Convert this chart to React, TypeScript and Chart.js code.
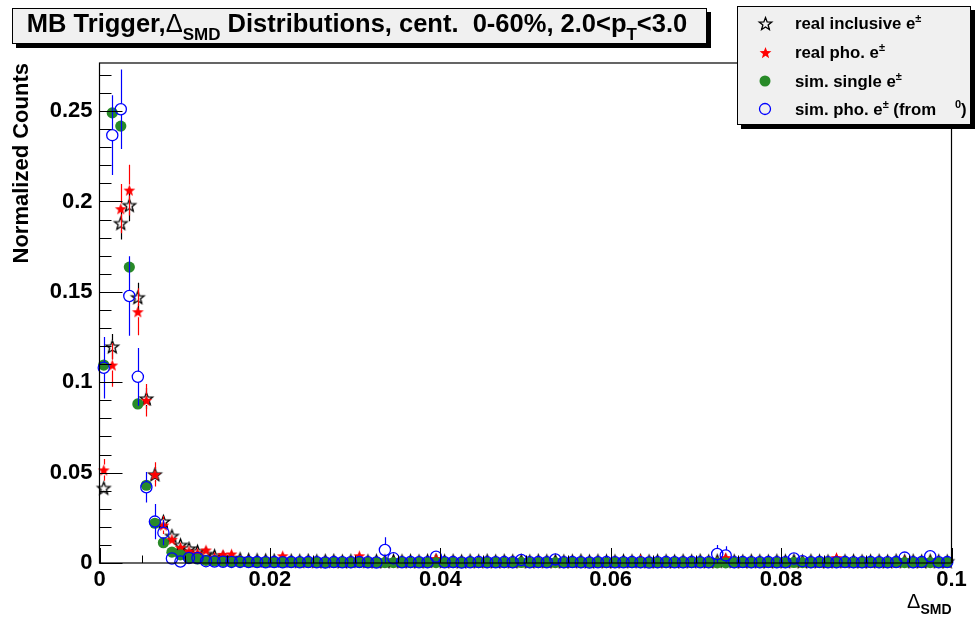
import React, { useEffect, useRef } from 'react';
import { Chart, registerables } from 'chart.js';

Chart.register(...registerables);

// ---- Histogram binning (100 bins of width 0.001 from 0 to 0.1) ----
const BIN_LOW = 0;
const BIN_WIDTH = 0.001;
const N_BINS = 100;

// ---- Axis ticks ----
const X_TICKS = [0, 0.02, 0.04, 0.06, 0.08, 0.1];
const X_TICK_LABELS = ['0', '0.02', '0.04', '0.06', '0.08', '0.1'];
const Y_TICKS = [0, 0.05, 0.1, 0.15, 0.2, 0.25];
const Y_TICK_LABELS = ['0', '0.05', '0.1', '0.15', '0.2', '0.25'];
const X_MINOR_STEP = 0.005;
const Y_MINOR_STEP = 0.01;
const X_MAX = 0.1;
const Y_MAX = 0.2766;

// ---- Series values ----
const realInclusive = [
  0.0415, 0.1197, 0.188, 0.198, 0.147, 0.091, 0.049, 0.023, 0.015, 0.010,
  0.008, 0.0065, 0.005, 0.004, 0.003, 0.0028, 0.0022, 0.0018, 0.0016, 0.0015,
  0.0014, 0.0016, 0.0013, 0.0012, 0.0014, 0.0011, 0.0012, 0.0013, 0.0010, 0.0012,
  0.0014, 0.0011, 0.0012, 0.0010, 0.0013, 0.0011, 0.0012, 0.0010, 0.0013, 0.0014,
  0.0011, 0.0012, 0.0010, 0.0012, 0.0011, 0.0013, 0.0010, 0.0012, 0.0011, 0.0012,
  0.0010, 0.0013, 0.0011, 0.0012, 0.0010, 0.0011, 0.0013, 0.0010, 0.0012, 0.0011,
  0.0010, 0.0012, 0.0011, 0.0013, 0.0010, 0.0012, 0.0011, 0.0010, 0.0012, 0.0011,
  0.0013, 0.0010, 0.0012, 0.0014, 0.0011, 0.0010, 0.0012, 0.0011, 0.0010, 0.0012,
  0.0011, 0.0013, 0.0010, 0.0012, 0.0011, 0.0010, 0.0013, 0.0011, 0.0012, 0.0010,
  0.0011, 0.0012, 0.0010, 0.0013, 0.0011, 0.0012, 0.0010, 0.0012, 0.0011, 0.0010,
];
const realInclusiveErr = [
  0.003, 0.007, 0.009, 0.009, 0.008, 0.006, 0.004, 0.003, 0.002, 0.0018,
  0.0016, 0.0015, 0.0014, 0.0013, 0.0012, 0.0012, 0.0011, 0.0010, 0.0010, 0.0010,
  0.0010, 0.0010, 0.0009, 0.0009, 0.0010, 0.0009, 0.0009, 0.0010, 0.0009, 0.0009,
  0.0010, 0.0009, 0.0009, 0.0009, 0.0010, 0.0009, 0.0009, 0.0009, 0.0010, 0.0010,
  0.0009, 0.0009, 0.0009, 0.0009, 0.0009, 0.0010, 0.0009, 0.0009, 0.0009, 0.0009,
  0.0009, 0.0010, 0.0009, 0.0009, 0.0009, 0.0009, 0.0010, 0.0009, 0.0009, 0.0009,
  0.0009, 0.0009, 0.0009, 0.0010, 0.0009, 0.0009, 0.0009, 0.0009, 0.0009, 0.0009,
  0.0010, 0.0009, 0.0009, 0.0010, 0.0009, 0.0009, 0.0009, 0.0009, 0.0009, 0.0009,
  0.0009, 0.0010, 0.0009, 0.0009, 0.0009, 0.0009, 0.0010, 0.0009, 0.0009, 0.0009,
  0.0009, 0.0009, 0.0009, 0.0010, 0.0009, 0.0009, 0.0009, 0.0009, 0.0009, 0.0009,
];

const realPho = [
  0.0515, 0.1095, 0.196, 0.2063, 0.139, 0.090, 0.049, 0.021, 0.0131, 0.0087,
  0.0066, 0.0055, 0.0072, 0.0032, 0.0048, 0.0050, 0.0015, 0.0012, 0.0010, 0.0008,
  0.0009, 0.0040, 0.0008, 0.0007, 0.0009, 0.0006, 0.0008, 0.0007, 0.0006, 0.0008,
  0.0040, 0.0007, 0.0006, 0.0008, 0.0007, 0.0006, 0.0008, 0.0007, 0.0006, 0.0025,
  0.0007, 0.0006, 0.0008, 0.0006, 0.0007, 0.0006, 0.0008, 0.0007, 0.0006, 0.0007,
  0.0008, 0.0006, 0.0007, 0.0006, 0.0008, 0.0007, 0.0006, 0.0007, 0.0008, 0.0006,
  0.0007, 0.0006, 0.0008, 0.0020, 0.0007, 0.0006, 0.0008, 0.0007, 0.0006, 0.0008,
  0.0007, 0.0006, 0.0008, 0.0030, 0.0007, 0.0006, 0.0008, 0.0007, 0.0006, 0.0008,
  0.0007, 0.0006, 0.0008, 0.0007, 0.0006, 0.0008, 0.0030, 0.0006, 0.0007, 0.0008,
  0.0006, 0.0007, 0.0008, 0.0006, 0.0012, 0.0007, 0.0006, 0.0008, 0.0007, 0.0006,
];
const realPhoErr = [
  0.006, 0.012, 0.0136, 0.014, 0.013, 0.009, 0.0067, 0.005, 0.003, 0.0025,
  0.002, 0.002, 0.002, 0.0015, 0.0015, 0.0015, 0.0010, 0.0010, 0.0008, 0.0008,
  0.0008, 0.0018, 0.0008, 0.0008, 0.0008, 0.0007, 0.0008, 0.0008, 0.0007, 0.0008,
  0.0018, 0.0008, 0.0007, 0.0008, 0.0008, 0.0007, 0.0008, 0.0008, 0.0007, 0.0015,
  0.0008, 0.0007, 0.0008, 0.0007, 0.0008, 0.0007, 0.0008, 0.0008, 0.0007, 0.0008,
  0.0008, 0.0007, 0.0008, 0.0007, 0.0008, 0.0008, 0.0007, 0.0008, 0.0008, 0.0007,
  0.0008, 0.0007, 0.0008, 0.0014, 0.0008, 0.0007, 0.0008, 0.0008, 0.0007, 0.0008,
  0.0008, 0.0007, 0.0008, 0.0016, 0.0008, 0.0007, 0.0008, 0.0008, 0.0007, 0.0008,
  0.0008, 0.0007, 0.0008, 0.0008, 0.0007, 0.0008, 0.0016, 0.0007, 0.0008, 0.0008,
  0.0007, 0.0008, 0.0008, 0.0007, 0.0010, 0.0008, 0.0007, 0.0008, 0.0008, 0.0007,
];

const simSingle = [
  0.1095, 0.249, 0.2417, 0.1637, 0.088, 0.043, 0.022, 0.0112, 0.006, 0.0045,
  0.0026, 0.0022, 0.0015, 0.0011, 0.0009, 0.0007, 0.0006, 0.0005, 0.0005, 0.0004,
  0.0004, 0.0003, 0.0004, 0.0003, 0.0003, 0.0004, 0.0002, 0.0003, 0.0003, 0.0002,
  0.0003, 0.0002, 0.0003, 0.0002, 0.0002, 0.0003, 0.0002, 0.0003, 0.0002, 0.0002,
  0.0003, 0.0002, 0.0002, 0.0003, 0.0002, 0.0002, 0.0003, 0.0002, 0.0002, 0.0003,
  0.0002, 0.0002, 0.0003, 0.0002, 0.0002, 0.0003, 0.0002, 0.0002, 0.0003, 0.0002,
  0.0002, 0.0003, 0.0002, 0.0002, 0.0003, 0.0002, 0.0002, 0.0003, 0.0002, 0.0002,
  0.0003, 0.0002, 0.0001, 0.0001, 0.0002, 0.0003, 0.0002, 0.0002, 0.0003, 0.0002,
  0.0002, 0.0003, 0.0002, 0.0002, 0.0003, 0.0002, 0.0002, 0.0003, 0.0002, 0.0002,
  0.0003, 0.0002, 0.0002, 0.0003, 0.0002, 0.0002, 0.0003, 0.0002, 0.0002, 0.0003,
];
const simSingleErr = [
  0.0015, 0.002, 0.002, 0.0018, 0.0013, 0.001, 0.0007, 0.0005, 0.0004, 0.0003,
];

const simPho = [
  0.108, 0.2367, 0.251, 0.1477, 0.103, 0.0419, 0.0229, 0.0168, 0.0025, 0.0008,
  0.0028, 0.0027, 0.0010, 0.0008, 0.0007, 0.0006, 0.0006, 0.0005, 0.0005, 0.0004,
  0.0005, 0.0004, 0.0005, 0.0004, 0.0005, 0.0004, 0.0003, 0.0005, 0.0004, 0.0004,
  0.0005, 0.0004, 0.0003, 0.0072, 0.0026, 0.0004, 0.0005, 0.0004, 0.0004, 0.0035,
  0.0004, 0.0005, 0.0003, 0.0004, 0.0005, 0.0004, 0.0004, 0.0005, 0.0004, 0.0017,
  0.0004, 0.0005, 0.0004, 0.0020, 0.0004, 0.0005, 0.0004, 0.0003, 0.0004, 0.0005,
  0.0004, 0.0004, 0.0005, 0.0004, 0.0003, 0.0004, 0.0005, 0.0004, 0.0004, 0.0005,
  0.0004, 0.0004, 0.0050, 0.0042, 0.0004, 0.0005, 0.0004, 0.0004, 0.0005, 0.0004,
  0.0004, 0.0025, 0.0010, 0.0004, 0.0005, 0.0004, 0.0004, 0.0005, 0.0004, 0.0004,
  0.0005, 0.0004, 0.0004, 0.0005, 0.0030, 0.0004, 0.0005, 0.0038, 0.0004, 0.0005,
];
const simPhoErr = [
  0.017, 0.022, 0.022, 0.022, 0.016, 0.0085, 0.0097, 0.007, 0.003, 0.002,
  0.002, 0.002, 0.0015, 0.0012, 0.001, 0.001, 0.0008, 0.0008, 0.0008, 0.0007,
  0.0008, 0.0007, 0.0008, 0.0007, 0.0008, 0.0007, 0.0006, 0.0008, 0.0007, 0.0007,
  0.0008, 0.0007, 0.0006, 0.0070, 0.0035, 0.0007, 0.0008, 0.0007, 0.0007, 0.0020,
  0.0007, 0.0008, 0.0006, 0.0007, 0.0008, 0.0007, 0.0007, 0.0008, 0.0007, 0.0015,
  0.0007, 0.0008, 0.0007, 0.0015, 0.0007, 0.0008, 0.0007, 0.0006, 0.0007, 0.0008,
  0.0007, 0.0007, 0.0008, 0.0007, 0.0006, 0.0007, 0.0008, 0.0007, 0.0007, 0.0008,
  0.0007, 0.0007, 0.0050, 0.0050, 0.0007, 0.0008, 0.0007, 0.0007, 0.0008, 0.0007,
  0.0007, 0.0018, 0.0010, 0.0007, 0.0008, 0.0007, 0.0007, 0.0008, 0.0007, 0.0007,
  0.0008, 0.0007, 0.0007, 0.0008, 0.0020, 0.0007, 0.0008, 0.0020, 0.0007, 0.0008,
];

const SERIES_LABELS = ['real inclusive e', 'real pho. e', 'sim. single e', 'sim. pho. e'];
const TITLE_PARTS = ['MB Trigger,', 'Δ', 'SMD', ' Distributions, cent.  0-60%, 2.0<p', 'T', '<3.0'];
const Y_TITLE = 'Normalized Counts';

const FONT = '"Liberation Sans", Arial, Helvetica, sans-serif';
const GREEN = 'rgb(40,138,40)';
const BLUE = '#0000ff';
const RED = '#ff0000';

type Seg = { t: string; m?: 'sub' | 'sup'; w?: string; s?: number };

function drawRich(ctx: CanvasRenderingContext2D, segs: Seg[], x: number, y: number, size: number, align: 'left' | 'right' | 'center' = 'left') {
  const fontFor = (s: Seg) => `${s.w ?? 'bold'} ${s.s ?? (s.m ? Math.round(size * 0.68) : size)}px ${FONT}`;
  let total = 0;
  const widths: number[] = [];
  for (const s of segs) {
    ctx.font = fontFor(s);
    const w = ctx.measureText(s.t).width;
    widths.push(w);
    total += w;
  }
  let cx = align === 'right' ? x - total : align === 'center' ? x - total / 2 : x;
  ctx.textAlign = 'left';
  ctx.textBaseline = 'alphabetic';
  ctx.fillStyle = '#000';
  segs.forEach((s, i) => {
    ctx.font = fontFor(s);
    const dy = s.m === 'sub' ? size * 0.3 : s.m === 'sup' ? -size * 0.42 : 0;
    ctx.fillText(s.t, cx, y + dy);
    cx += widths[i];
  });
}

function makeStar(R: number, fill: string | null, stroke: string | null, lw: number): HTMLCanvasElement {
  const size = 2 * Math.ceil(R + lw + 1) + 1;
  const c = document.createElement('canvas');
  c.width = size;
  c.height = size;
  const g = c.getContext('2d')!;
  const cx = size / 2;
  const cy = size / 2 + R * 0.1;
  g.beginPath();
  for (let k = 0; k < 10; k++) {
    const r = k % 2 === 0 ? R : R * 0.42;
    const a = -Math.PI / 2 + (k * Math.PI) / 5;
    const px = cx + r * Math.cos(a);
    const py = cy + r * Math.sin(a);
    if (k === 0) g.moveTo(px, py);
    else g.lineTo(px, py);
  }
  g.closePath();
  if (fill) {
    g.fillStyle = fill;
    g.fill();
  }
  if (stroke) {
    g.strokeStyle = stroke;
    g.lineWidth = lw;
    g.stroke();
  }
  return c;
}

function drawBox(ctx: CanvasRenderingContext2D, l: number, t: number, r: number, b: number) {
  ctx.fillStyle = '#000';
  ctx.fillRect(l + 4, t + 4, r - l, b - t);
  ctx.fillStyle = '#f0f0f0';
  ctx.fillRect(l, t, r - l, b - t);
  ctx.strokeStyle = '#000';
  ctx.lineWidth = 1;
  ctx.strokeRect(l + 0.5, t + 0.5, r - l - 1, b - t - 1);
}

export default function App() {
  const ref = useRef<HTMLCanvasElement | null>(null);

  useEffect(() => {
    const canvas = ref.current;
    if (!canvas) return;
    const starOpen = makeStar(6.6, null, '#000', 1.3);
    const starRed = makeStar(6.2, RED, null, 1);

    const centers = Array.from({ length: N_BINS }, (_, i) => BIN_LOW + (i + 0.5) * BIN_WIDTH);
    const toPts = (vals: number[]) => vals.map((v, i) => ({ x: centers[i], y: v }));
    const errs = [realInclusiveErr, realPhoErr, simSingleErr, simPhoErr];
    const gaps = [6.5, 5.5, 5.5, 5.5];
    const colors = ['#000', RED, GREEN, BLUE];

    const errorBars = {
      id: 'errorBars',
      beforeDatasetDraw(chart: any, args: any) {
        const i = args.index;
        const meta = args.meta;
        const ys = chart.scales.y;
        const ca = chart.chartArea;
        const vals = chart.data.datasets[i].data;
        const e = errs[i];
        const ctx = chart.ctx;
        ctx.save();
        ctx.beginPath();
        ctx.rect(ca.left, ca.top, ca.right - ca.left, ca.bottom - ca.top);
        ctx.clip();
        ctx.strokeStyle = colors[i];
        ctx.lineWidth = 1.2;
        meta.data.forEach((pt: any, k: number) => {
          const err = e[k] ?? 0;
          if (!err) return;
          const v = vals[k].y;
          const top = ys.getPixelForValue(v + err);
          const bot = ys.getPixelForValue(v - err);
          const x = Math.round(pt.x) + 0.5;
          const g = gaps[i];
          ctx.beginPath();
          if (pt.y - top > g) {
            ctx.moveTo(x, top);
            ctx.lineTo(x, pt.y - g);
          }
          if (bot - pt.y > g) {
            ctx.moveTo(x, pt.y + g);
            ctx.lineTo(x, bot);
          }
          ctx.stroke();
        });
        ctx.restore();
      },
    };

    const frame = {
      id: 'rootFrame',
      beforeDraw(chart: any) {
        const ctx = chart.ctx;
        ctx.save();
        ctx.fillStyle = '#fff';
        ctx.fillRect(0, 0, chart.width, chart.height);
        ctx.restore();
      },
      afterDatasetsDraw(chart: any) {
        const ctx = chart.ctx;
        const ca = chart.chartArea;
        const xs = chart.scales.x;
        const ys = chart.scales.y;
        ctx.save();
        ctx.strokeStyle = '#000';
        ctx.lineWidth = 1;
        ctx.beginPath();
        const nx = Math.round(X_MAX / X_MINOR_STEP);
        for (let k = 0; k <= nx; k++) {
          const v = k * X_MINOR_STEP;
          const major = X_TICKS.some((t) => Math.abs(t - v) < 1e-9);
          const px = Math.round(xs.getPixelForValue(v)) + 0.5;
          ctx.moveTo(px, ca.bottom);
          ctx.lineTo(px, ca.bottom - (major ? 15 : 7.5));
        }
        const ny = Math.floor(Y_MAX / Y_MINOR_STEP + 1e-9);
        for (let k = 0; k <= ny; k++) {
          const v = k * Y_MINOR_STEP;
          const major = Y_TICKS.some((t) => Math.abs(t - v) < 1e-9);
          const py = Math.round(ys.getPixelForValue(v)) + 0.5;
          ctx.moveTo(ca.left, py);
          ctx.lineTo(ca.left + (major ? 23 : 12), py);
        }
        ctx.stroke();
        ctx.lineWidth = 1.2;
        ctx.strokeRect(ca.left, ca.top, ca.right - ca.left, ca.bottom - ca.top);
        ctx.restore();
      },
      afterDraw(chart: any) {
        const ctx = chart.ctx;
        const ca = chart.chartArea;
        ctx.save();
        drawBox(ctx, 12, 8, 707, 44);
        drawRich(
          ctx,
          [
            { t: TITLE_PARTS[0] },
            { t: TITLE_PARTS[1], w: 'normal' },
            { t: TITLE_PARTS[2], m: 'sub' },
            { t: TITLE_PARTS[3] },
            { t: TITLE_PARTS[4], m: 'sub' },
            { t: TITLE_PARTS[5] },
          ],
          357,
          32,
          25.5,
          'center'
        );
        drawBox(ctx, 737, 6, 971, 125);
        const rows = [23, 52, 81, 109];
        const mx = 765;
        ctx.drawImage(starOpen, Math.round(mx - starOpen.width / 2), Math.round(rows[0] - starOpen.height / 2));
        ctx.drawImage(starRed, Math.round(mx - starRed.width / 2), Math.round(rows[1] - starRed.height / 2));
        ctx.beginPath();
        ctx.fillStyle = GREEN;
        ctx.arc(mx, rows[2], 5.5, 0, Math.PI * 2);
        ctx.fill();
        ctx.beginPath();
        ctx.strokeStyle = BLUE;
        ctx.lineWidth = 1.3;
        ctx.arc(mx, rows[3], 5.5, 0, Math.PI * 2);
        ctx.stroke();
        const tx = 795;
        const fs = 16.8;
        drawRich(ctx, [{ t: SERIES_LABELS[0] }, { t: '±', m: 'sup' }], tx, rows[0] + 6, fs);
        drawRich(ctx, [{ t: SERIES_LABELS[1] }, { t: '±', m: 'sup' }], tx, rows[1] + 6, fs);
        drawRich(ctx, [{ t: SERIES_LABELS[2] }, { t: '±', m: 'sup' }], tx, rows[2] + 6, fs);
        drawRich(
          ctx,
          [{ t: SERIES_LABELS[3] }, { t: '±', m: 'sup' }, { t: ' (from' }, { t: '    ' }, { t: '0', m: 'sup' }, { t: ')' }],
          tx,
          rows[3] + 6,
          fs
        );
        drawRich(ctx, [{ t: 'Δ', w: 'normal', s: 20 }, { t: 'SMD', m: 'sub', s: 14 }], ca.right, 608, 20, 'right');
        ctx.restore();
      },
    };

    const tickFont = { family: FONT, size: 22, weight: 'bold' as const };

    const chart = new Chart(canvas, {
      type: 'scatter',
      data: {
        datasets: [
          {
            label: SERIES_LABELS[0],
            data: toPts(realInclusive),
            pointStyle: starOpen as any,
            pointRadius: 6,
            order: 4,
            clip: false as any,
          },
          {
            label: SERIES_LABELS[1],
            data: toPts(realPho),
            pointStyle: starRed as any,
            pointRadius: 6,
            order: 3,
            clip: false as any,
          },
          {
            label: SERIES_LABELS[2],
            data: toPts(simSingle),
            pointStyle: 'circle',
            pointRadius: 5.6,
            backgroundColor: GREEN,
            borderColor: GREEN,
            borderWidth: 0,
            order: 2,
            clip: false as any,
          },
          {
            label: SERIES_LABELS[3],
            data: toPts(simPho),
            pointStyle: 'circle',
            pointRadius: 5.6,
            backgroundColor: 'rgba(0,0,0,0)',
            borderColor: BLUE,
            borderWidth: 1.3,
            order: 1,
            clip: false as any,
          },
        ],
      },
      options: {
        responsive: false,
        animation: false,
        devicePixelRatio: 1,
        events: [],
        layout: { padding: { top: 63, right: 26.5, left: 0, bottom: 0 } },
        plugins: {
          legend: { display: false },
          title: { display: false },
          tooltip: { enabled: false },
        },
        scales: {
          x: {
            type: 'linear',
            min: 0,
            max: X_MAX,
            grid: { display: false, drawTicks: false },
            border: { display: false },
            afterBuildTicks: (s: any) => {
              s.ticks = X_TICKS.map((v) => ({ value: v }));
            },
            afterFit: (s: any) => {
              s.height = 59;
            },
            ticks: {
              autoSkip: false,
              maxRotation: 0,
              padding: 4,
              color: '#000',
              font: tickFont,
              callback: (_v: any, i: number) => X_TICK_LABELS[i],
            },
          },
          y: {
            type: 'linear',
            min: 0,
            max: Y_MAX,
            grid: { display: false, drawTicks: false },
            border: { display: false },
            afterBuildTicks: (s: any) => {
              s.ticks = Y_TICKS.map((v) => ({ value: v }));
            },
            afterFit: (s: any) => {
              s.width = 99.5;
            },
            title: {
              display: true,
              text: Y_TITLE,
              align: 'end',
              color: '#000',
              font: { family: FONT, size: 22, weight: 'bold' },
              padding: { top: 9, bottom: 0 },
            },
            ticks: {
              padding: 7,
              color: '#000',
              font: tickFont,
              callback: (_v: any, i: number) => Y_TICK_LABELS[i],
            },
          },
        },
      } as any,
      plugins: [errorBars, frame],
    });

    return () => chart.destroy();
  }, []);

  return (
    <div style={{ position: 'absolute', left: 0, top: 0, width: 978, height: 622, background: '#fff' }}>
      <canvas ref={ref} width={978} height={622} style={{ display: 'block', width: 978, height: 622 }} />
    </div>
  );
}
